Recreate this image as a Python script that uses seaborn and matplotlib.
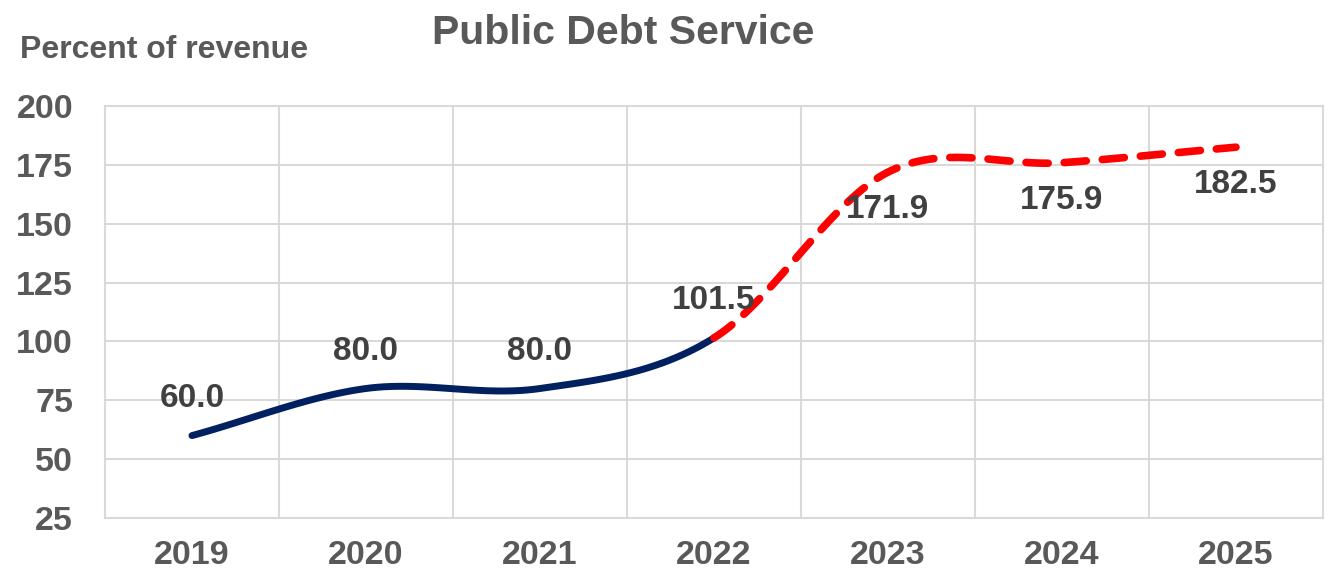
import numpy as np
import pandas as pd
import seaborn as sns
import matplotlib.pyplot as plt

years = ['2019', '2020', '2021', '2022', '2023', '2024', '2025']
debt_service = [60.0, 80.0, 80.0, 101.5, 171.9, 175.9, 182.5]
n_actual = 4  # 2019-2022 solid, 2022-2025 projection dashed

sns.set_style('white')
plt.rcParams['font.family'] = ['Liberation Sans', 'DejaVu Sans']
plt.rcParams['font.weight'] = 'bold'


def smooth(xs, ys, steps=40):
    # Excel-like smoothed line (Catmull-Rom through the points)
    xs = np.asarray(xs, float)
    ys = np.asarray(ys, float)
    px = np.concatenate([[2 * xs[0] - xs[1]], xs, [2 * xs[-1] - xs[-2]]])
    py = np.concatenate([[2 * ys[0] - ys[1]], ys, [2 * ys[-1] - ys[-2]]])
    outx, outy, seg = [], [], []
    for i in range(1, len(px) - 2):
        t = np.linspace(0, 1, steps)
        for p, out in ((px, outx), (py, outy)):
            p0, p1, p2, p3 = p[i - 1], p[i], p[i + 1], p[i + 2]
            out.extend(0.5 * ((2 * p1) + (-p0 + p2) * t
                              + (2 * p0 - 5 * p1 + 4 * p2 - p3) * t ** 2
                              + (-p0 + 3 * p1 - 3 * p2 + p3) * t ** 3))
        seg.extend([i - 1] * steps)
    return pd.DataFrame({'x': outx, 'y': outy, 'seg': seg})


xpos = np.arange(len(years))
curve = smooth(xpos, debt_service)
actual = curve[curve.seg < n_actual - 1]
proj = curve[curve.seg >= n_actual - 1]

fig = plt.figure(figsize=(13.32, 5.76), dpi=100)
ax = fig.add_axes([0.0788, 0.1007, 0.9144, 0.7153])

sns.lineplot(data=actual, x='x', y='y', ax=ax, color='#002060', lw=5,
             sort=False, estimator=None, solid_capstyle='round')
sns.lineplot(data=proj, x='x', y='y', ax=ax, color='#FF0000', lw=5.5,
             sort=False, estimator=None, dashes=False)
ax.lines[-1].set_dashes((2.9, 2.1))
ax.lines[-1].set_dash_capstyle('round')

for i, v in enumerate(debt_service):
    off = 27 if i < n_actual else -27
    ax.annotate(f'{v:.1f}', (i, v), xytext=(0, off), textcoords='offset points',
                ha='center', va='center', fontsize=24, fontweight='bold',
                color='#404040')

ax.set_xlim(-0.5, len(years) - 0.5)
ax.set_ylim(25, 200)
ax.set_yticks(np.arange(25, 201, 25))
ax.set_xticks(xpos)
ax.set_xticklabels(years)
ax.set_xticks(np.arange(0.5, len(years) - 1, 1), minor=True)
ax.grid(True, which='minor', axis='x', color='#d9d9d9', lw=1.5)
ax.grid(True, which='major', axis='y', color='#d9d9d9', lw=1.5)
ax.tick_params(axis='both', which='both', length=0, labelsize=24.5,
               labelcolor='#595959')
ax.tick_params(axis='y', pad=23)
ax.tick_params(axis='x', pad=16)
for s in ax.spines.values():
    s.set_color('#d9d9d9')
    s.set_linewidth(1.5)
ax.set_xlabel('')
ax.set_ylabel('')

fig.text(0.4677, 0.943, 'Public Debt Service', ha='center', va='center',
         fontsize=29.5, fontweight='bold', color='#595959')
fig.text(0.015, 0.913, 'Percent of revenue', ha='left', va='center',
         fontsize=23, fontweight='bold', color='#595959')

fig.savefig('out.png', dpi=100)
